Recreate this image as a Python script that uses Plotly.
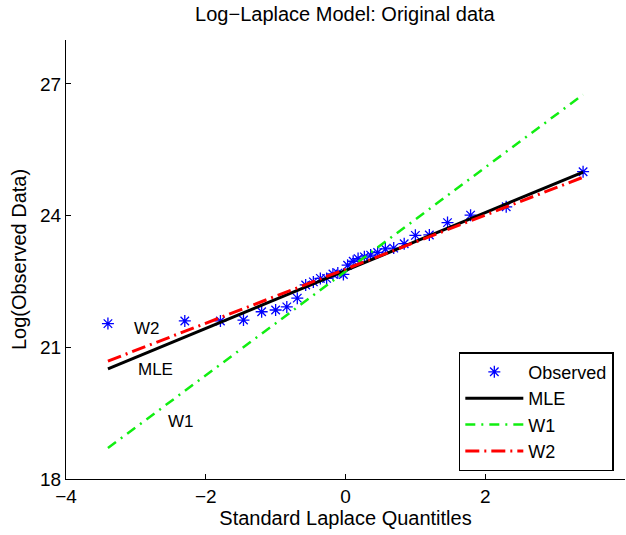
import plotly.graph_objects as go

quantiles = [-3.40, -2.30, -1.79, -1.46, -1.20, -1.00, -0.84, -0.69, -0.57, -0.46,
             -0.36, -0.27, -0.18, -0.11, -0.03, 0.03, 0.11, 0.18, 0.27, 0.36,
             0.46, 0.57, 0.69, 0.84, 1.00, 1.20, 1.46, 1.79, 2.30, 3.40]
log_obs = [21.54, 21.60, 21.60, 21.62, 21.81, 21.85, 21.92, 22.12, 22.42, 22.49,
           22.57, 22.57, 22.67, 22.69, 22.66, 22.87, 22.96, 23.02, 23.06, 23.10,
           23.16, 23.24, 23.26, 23.36, 23.55, 23.56, 23.84, 24.01, 24.20, 25.00]

# Fitted lines: intercept, slope
fit_names = ["MLE", "W1", "W2"]
fit_intercepts = [22.75, 22.73, 22.78]
fit_slopes = [0.659, 1.184, 0.616]

x_ticks = [-4, -2, 0, 2, 4]
y_ticks = [18, 21, 24, 27]

FONT = "Liberation Sans, Arial, sans-serif"

styles = {
    "MLE": dict(color="black", width=3, dash="solid"),
    "W1": dict(color="#11ee11", width=2.5, dash="10px,6px,2px,6px"),
    "W2": dict(color="red", width=3, dash="14px,5px,2px,5px"),
}

fig = go.Figure()
fig.add_trace(go.Scatter(
    x=quantiles, y=log_obs, mode="markers", name="Observed",
    marker=dict(symbol="asterisk-open", size=10, color="blue",
                line=dict(color="blue", width=1.3)),
))
xl = [min(quantiles), max(quantiles)]
for name, a, b in zip(fit_names, fit_intercepts, fit_slopes):
    fig.add_trace(go.Scatter(
        x=xl, y=[a + b * xv for xv in xl], mode="lines", name=name,
        line=styles[name],
    ))

label_pos = {"W2": (-2.84, 21.42), "MLE": (-2.72, 20.5), "W1": (-2.35, 19.3)}
for name in fit_names:
    lx, ly = label_pos[name]
    fig.add_annotation(x=lx, y=ly, text=name, showarrow=False,
                       font=dict(family=FONT, size=17, color="black"))

axis_common = dict(
    showline=True, linecolor="black", linewidth=1, mirror=False,
    ticks="inside", ticklen=5, tickcolor="black", showgrid=False, zeroline=False,
    automargin=False,
    tickfont=dict(family=FONT, size=19, color="black"),
)

fig.update_layout(
    width=626, height=535,
    margin=dict(l=66, r=1, t=40, b=56),
    paper_bgcolor="white", plot_bgcolor="white",
    title=dict(text="Log\u2212Laplace Model: Original data", x=0.551, xanchor="center",
               y=1 - 14 / 535, yanchor="middle", yref="container",
               font=dict(family=FONT, size=20, color="black")),
    xaxis=dict(range=[-4, 4], tickvals=x_ticks,
               title=dict(text="Standard Laplace Quantitles", standoff=2,
                          font=dict(family=FONT, size=20, color="black")),
               **axis_common),
    yaxis=dict(range=[18, 28], tickvals=y_ticks,
               title=dict(text="Log(Observed Data)", standoff=8,
                          font=dict(family=FONT, size=20, color="black")),
               **axis_common),
    legend=dict(x=0.98, y=0.018, xanchor="right", yanchor="bottom",
                bordercolor="black", borderwidth=1.5, bgcolor="white",
                font=dict(family=FONT, size=18, color="black"),
                tracegroupgap=0, itemwidth=58),
    showlegend=True,
)

fig.write_html("out.html")
